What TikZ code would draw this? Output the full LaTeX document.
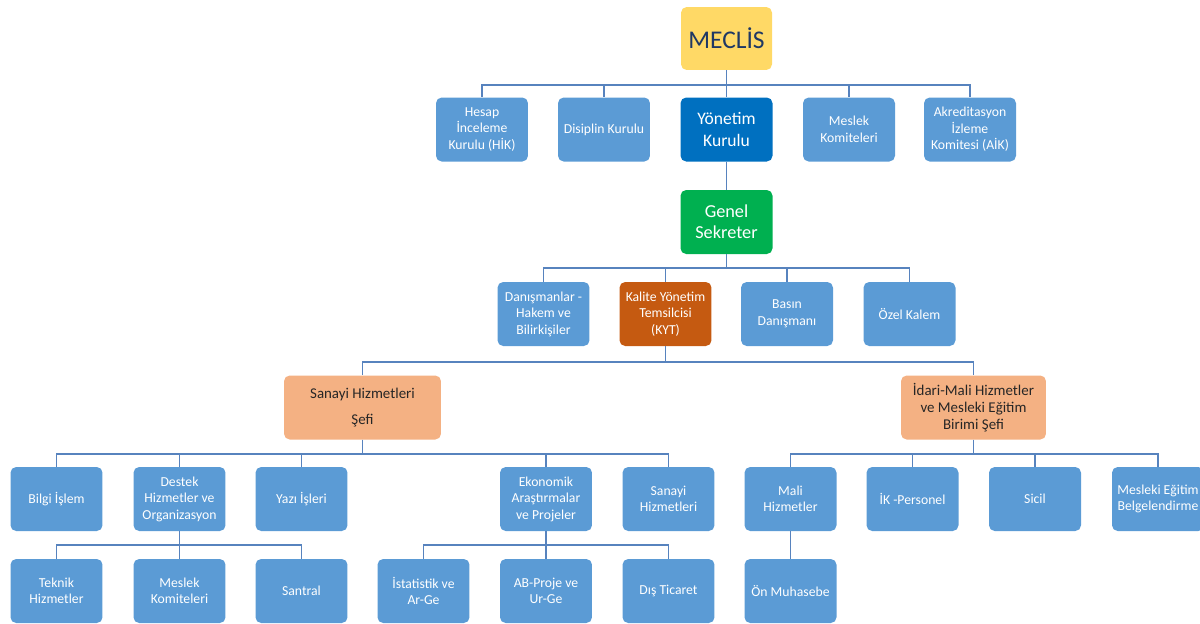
\documentclass[tikz,border=0pt]{standalone}
\usepackage{fontspec}
\setmainfont{Carlito}
\definecolor{boxblue}{HTML}{5B9BD5}
\definecolor{darkblue}{HTML}{0070C0}
\definecolor{gold}{HTML}{FFD966}
\definecolor{navy}{HTML}{1F3864}
\definecolor{sgreen}{HTML}{00B050}
\definecolor{rust}{HTML}{C55A11}
\definecolor{peach}{HTML}{F4B183}
\definecolor{linkblue}{HTML}{5783BE}

\begin{document}
\begin{tikzpicture}[x=0.02cm, y=0.02cm,
  box/.style={fill=boxblue, text=white, rounded corners=3.2pt, minimum width=1.84cm,
    minimum height=1.28cm, inner sep=1pt, align=center, font=\fontsize{7.8}{9.4}\selectfont},
  chief/.style={box, fill=peach, text=black!85, font=\fontsize{8.5}{9.8}\selectfont},
  link/.style={draw=linkblue, line width=1pt}]
  \useasboundingbox (0,0) rectangle (1200,-623);
  \clip (0,0) rectangle (1200,-623);
  \node[box, fill=gold, text=navy, minimum width=1.82cm, minimum height=1.26cm, font=\fontsize{14.5}{16}\selectfont] (meclis) at (726.5,-38.5) {MECLİS};
  \node[box] (hik) at (482,-129.5) {Hesap\\İnceleme\\Kurulu (HİK)};
  \node[box] (disiplin) at (604,-129.5) {Disiplin Kurulu};
  \node[box, fill=darkblue, font=\fontsize{10}{12.5}\selectfont] (yk) at (726.5,-129.5) {Yönetim\\Kurulu};
  \node[box] (meslek) at (849,-129.5) {Meslek\\Komiteleri};
  \node[box] (aik) at (970,-129.5) {Akreditasyon\\İzleme\\Komitesi (AİK)};
  \node[box, fill=sgreen, font=\fontsize{10.4}{12}\selectfont] (gs) at (726.5,-222) {Genel\\Sekreter};
  \node[box] (danisman) at (543.5,-314) {Danışmanlar -\\Hakem ve\\Bilirkişiler};
  \node[box, fill=rust] (kyt) at (665.5,-314) {Kalite Yönetim\\Temsilcisi\\(KYT)};
  \node[box] (basin) at (787,-314) {Basın\\Danışmanı};
  \node[box] (ozelkalem) at (909.5,-314) {Özel Kalem};
  \node[chief, minimum width=3.14cm] (sanayisef) at (362.5,-407.5) {Sanayi Hizmetleri\\[5pt]Şefi};
  \node[chief, minimum width=2.9cm] (idarisef) at (973.5,-407.5) {İdari-Mali Hizmetler\\ve Mesleki Eğitim\\Birimi Şefi};
  \node[box] (bilgi) at (56.5,-499) {Bilgi İşlem};
  \node[box] (destek) at (179.5,-499) {Destek\\Hizmetler ve\\Organizasyon};
  \node[box] (yazi) at (301.5,-499) {Yazı İşleri};
  \node[box] (ekonomik) at (546,-499) {Ekonomik\\Araştırmalar\\ve Projeler};
  \node[box] (sanayihiz) at (668.5,-499) {Sanayi\\Hizmetleri};
  \node[box] (mali) at (790.5,-499) {Mali\\Hizmetler};
  \node[box] (ik) at (912.5,-499) {İK -Personel};
  \node[box] (sicil) at (1035,-499) {Sicil};
  \node[box] (egitim) at (1158,-499) {Mesleki Eğitim\\Belgelendirme};
  \node[box] (teknik) at (56.5,-591) {Teknik\\Hizmetler};
  \node[box] (mkomite) at (179.5,-591) {Meslek\\Komiteleri};
  \node[box] (santral) at (301.5,-591) {Santral};
  \node[box] (istatistik) at (423.5,-591) {İstatistik ve\\Ar-Ge};
  \node[box] (abproje) at (546,-591) {AB-Proje ve\\Ur-Ge};
  \node[box] (disticaret) at (668.5,-591) {Dış Ticaret};
  \node[box] (onmuhasebe) at (790.5,-591) {Ön Muhasebe};
  \foreach \c in {hik,disiplin,yk,meslek,aik}
    \draw[link] (meclis.south) -- ++(0,-15) -| (\c.north);
  \draw[link] (yk.south) -- (gs.north);
  \foreach \c in {danisman,kyt,basin,ozelkalem}
    \draw[link] (gs.south) -- ++(0,-14) -| (\c.north);
  \foreach \c in {sanayisef,idarisef}
    \draw[link] (kyt.south) -- ++(0,-16) -| (\c.north);
  \foreach \c in {bilgi,destek,yazi,ekonomik,sanayihiz}
    \draw[link] (sanayisef.south) -- ++(0,-14) -| (\c.north);
  \foreach \c in {mali,ik,sicil,egitim}
    \draw[link] (idarisef.south) -- ++(0,-14) -| (\c.north);
  \foreach \c in {teknik,mkomite,santral}
    \draw[link] (destek.south) -- ++(0,-14) -| (\c.north);
  \foreach \c in {istatistik,abproje,disticaret}
    \draw[link] (ekonomik.south) -- ++(0,-14) -| (\c.north);
  \draw[link] (mali.south) -- (onmuhasebe.north);
\end{tikzpicture}
\end{document}
